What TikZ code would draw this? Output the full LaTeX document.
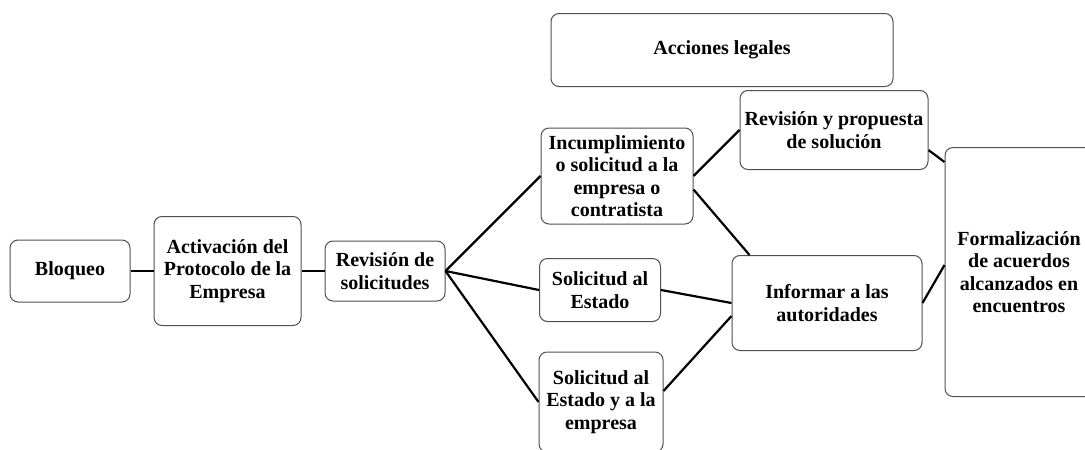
\documentclass[tikz,border=0pt]{standalone}
\usepackage{fontspec}
\setmainfont{Liberation Serif}
\usetikzlibrary{positioning}
\definecolor{BoxLine}{HTML}{505050}

\begin{document}
\begin{tikzpicture}[
  x=1pt,y=-1pt,
  node distance=23pt,
  every node/.style={font=\fontsize{20}{22.5}\selectfont\bfseries},
  stage/.style={draw=BoxLine,line width=1pt,rounded corners=8pt,fill=white,
    align=center,inner sep=2pt},
  link/.style={line width=2.2pt,color=black}
]
  \useasboundingbox (0,0) rectangle (1085,450);
  % protocolo
  \node[stage,minimum width=120pt,minimum height=62pt] (bloq) at (70,271) {Bloqueo};
  \node[stage,minimum width=147pt,minimum height=109pt,right=of bloq] (activ)
    {Activación del\\Protocolo de la\\Empresa};
  \node[stage,minimum width=120pt,minimum height=60pt,right=of activ] (revis)
    {Revisión de\\solicitudes};
  % solicitudes
  \node[stage,minimum width=342pt,minimum height=73pt] (acc) at (722,50) {Acciones legales};
  \node[stage,minimum width=152pt,minimum height=96pt] (incum) at (617,176)
    {Incumplimiento\\o solicitud a la\\empresa o\\contratista};
  \node[stage,minimum width=121pt,minimum height=63pt] (solest) at (600,290)
    {Solicitud al\\Estado};
  \node[stage,minimum width=124pt,minimum height=100pt] (solemp) at (601,402)
    {Solicitud al\\Estado y a la\\empresa};
  % respuesta
  \node[stage,minimum width=188pt,minimum height=79pt] (revprop) at (834,130)
    {Revisión y propuesta\\de solución};
  \node[stage,minimum width=190pt,minimum height=95pt] (inform) at (827,303)
    {Informar a las\\autoridades};
  \node[stage,minimum width=148pt,minimum height=249pt] (formal) at (1019,272)
    {Formalización\\de acuerdos\\alcanzados en\\encuentros};
  \foreach \x/\y in {bloq/activ,activ/revis}
    {\draw[link] (\x) -- (\y);}
  \foreach \y in {incum,solest,solemp}
    {\draw[link] (revis.east) -- (\y.west);}
  \draw[link] (incum.east) -- (revprop.west);
  \draw[link] (incum.-10) -- ([xshift=18pt]inform.north west);
  \draw[link] (solest.east) -- (inform.west);
  \draw[link] (solemp.10) -- ([yshift=-13pt]inform.west);
  \draw[link] (revprop.-12) -- ([yshift=-15pt]formal.north west);
  \draw[link] (inform.east) -- ([yshift=7pt]formal.west);
\end{tikzpicture}
\end{document}
